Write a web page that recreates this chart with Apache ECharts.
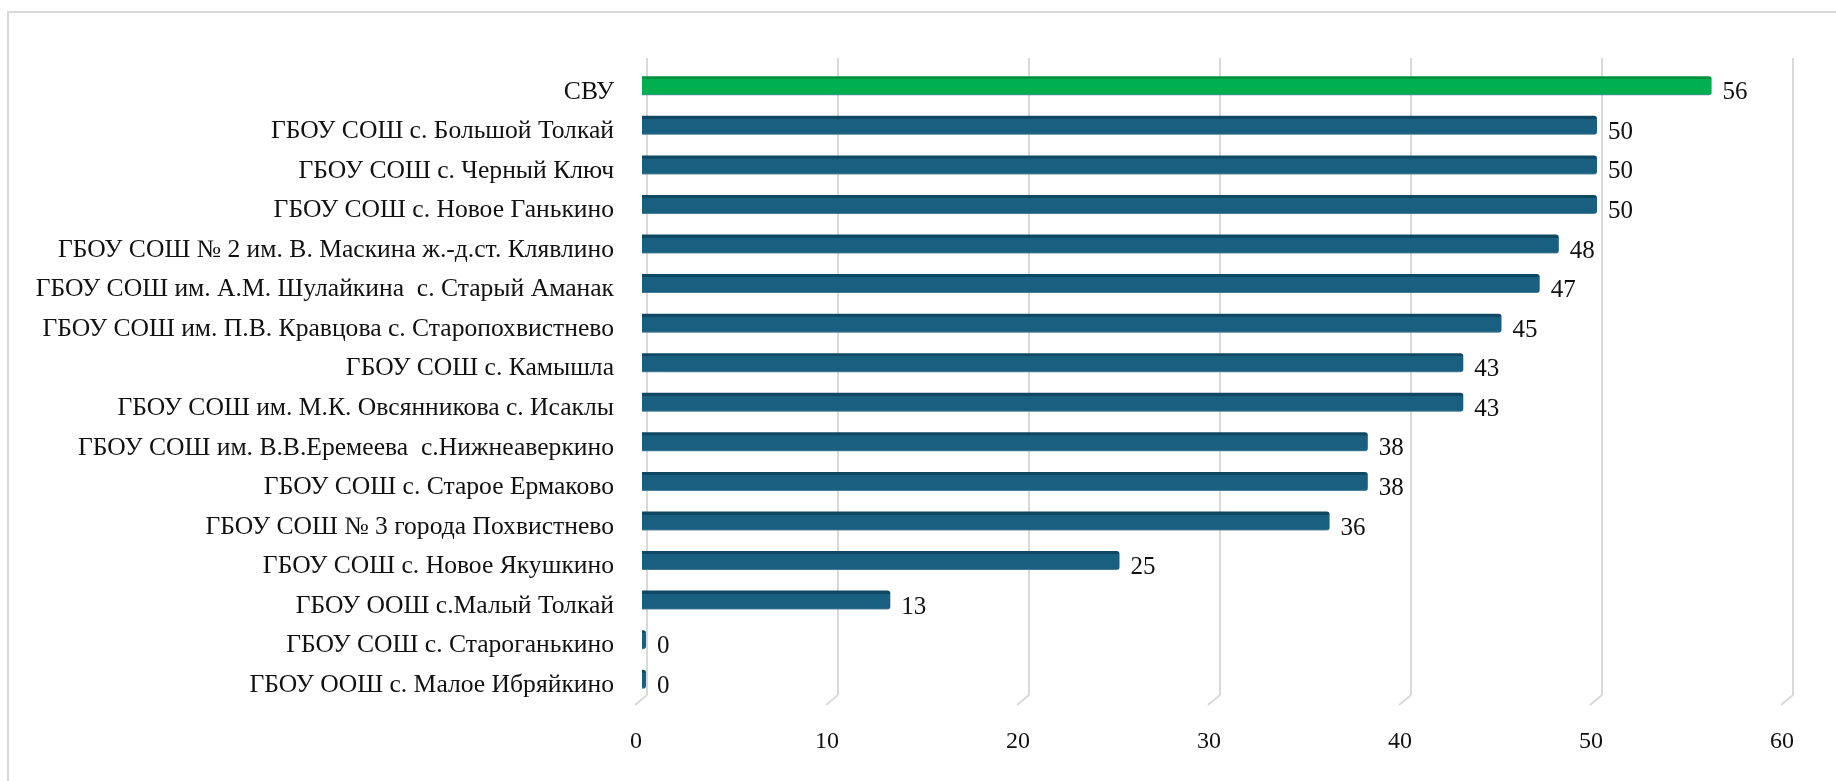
<!DOCTYPE html>
<html>
<head>
<meta charset="utf-8">
<script src="https://cdn.jsdelivr.net/npm/echarts@6/dist/echarts.min.js"></script>
<style>
  html, body { margin: 0; padding: 0; background: #fff; }
  #chart { width: 1836px; height: 781px; }
</style>
</head>
<body>
<div id="chart"></div>
<script>
// школы (сверху вниз)
var categories = [
    'СВУ',
    'ГБОУ СОШ с. Большой Толкай',
    'ГБОУ СОШ с. Черный Ключ',
    'ГБОУ СОШ с. Новое Ганькино',
    'ГБОУ СОШ № 2 им. В. Маскина ж.-д.ст. Клявлино',
    'ГБОУ СОШ им. А.М. Шулайкина  с. Старый Аманак',
    'ГБОУ СОШ им. П.В. Кравцова с. Старопохвистнево',
    'ГБОУ СОШ с. Камышла',
    'ГБОУ СОШ им. М.К. Овсянникова с. Исаклы',
    'ГБОУ СОШ им. В.В.Еремеева  с.Нижнеаверкино',
    'ГБОУ СОШ с. Старое Ермаково',
    'ГБОУ СОШ № 3 города Похвистнево',
    'ГБОУ СОШ с. Новое Якушкино',
    'ГБОУ ООШ с.Малый Толкай',
    'ГБОУ СОШ с. Староганькино',
    'ГБОУ ООШ с. Малое Ибряйкино'
]
var values = [56, 50, 50, 50, 48, 47, 45, 43, 43, 38, 38, 36, 25, 13, 0, 0]
var highlightCats = ['СВУ']
var xTicks = [0, 10, 20, 30, 40, 50, 60]

var myChart = echarts.init(document.getElementById('chart'));

// "объёмная" заливка: тёмная верхняя грань
function barFill(main, dark) {
    return new echarts.graphic.LinearGradient(0, 0, 0, 1, [
        { offset: 0, color: dark },
        { offset: 0.16, color: dark },
        { offset: 0.17, color: main },
        { offset: 0.92, color: main },
        { offset: 1, color: '#5d8aa0' }
    ])
}

var barData = values.map(function (v, i) {
    var hl = highlightCats.indexOf(categories[i]) >= 0
    return {
        value: v,
        itemStyle: {
            color: hl ? barFill('#00b050', '#00913f') : barFill('#185f80', '#0f4863'),
            borderRadius: [0, 3, 3, 0]
        }
    }
})

var option = {
    animation: false,
    backgroundColor: '#fff',
    graphic: [{
        type: 'rect',
        shape: { x: 8, y: 12, width: 2000, height: 1000 },
        style: { fill: 'none', stroke: '#d9d9d9', lineWidth: 2 },
        silent: true
    }],
    grid: [
        { left: 642, width: 1146, top: 66, height: 633 },   // бары
        { left: 647, width: 1146, top: 58, height: 637 },   // задняя стенка с сеткой
        { left: 642, width: 1146, top: 72, height: 633 }    // подписи школ (чуть ниже баров)
    ],
    xAxis: [{
        gridIndex: 0,
        type: 'value', min: 0, max: 60, interval: 10,
        show: false
    }, {
        gridIndex: 1,
        type: 'value', min: 0, max: 60, interval: 10,
        axisLine: { show: false },
        axisTick: { show: false },
        splitLine: { show: true, lineStyle: { color: '#d9d9d9', width: 2 } },
        axisLabel: {
            margin: 35,
            padding: [0, 22, 0, 0],
            color: '#111',
            fontFamily: 'Liberation Serif',
            fontSize: 24
        }
    }, {
        gridIndex: 2,
        type: 'value', min: 0, max: 60,
        show: false
    }],
    yAxis: [{
        gridIndex: 0,
        type: 'category',
        inverse: true,
        data: categories,
        show: false
    }, {
        gridIndex: 1,
        type: 'value', min: 0, max: 1,
        show: false
    }, {
        gridIndex: 2,
        type: 'category',
        inverse: true,
        data: categories,
        axisLine: { show: false },
        axisTick: { show: false },
        axisLabel: {
            margin: 28,
            color: '#111',
            fontFamily: 'Liberation Serif',
            fontSize: 25.6
        }
    }],
    series: [{
        type: 'custom',
        xAxisIndex: 1,
        yAxisIndex: 1,
        silent: true,
        data: xTicks,
        renderItem: function (params, api) {
            var p = api.coord([api.value(0), 0])
            return {
                type: 'line',
                shape: { x1: p[0], y1: p[1], x2: p[0] - 12, y2: p[1] + 10 },
                style: { stroke: '#d9d9d9', lineWidth: 2 }
            }
        }
    }, {
        type: 'bar',
        xAxisIndex: 0,
        yAxisIndex: 0,
        barWidth: 19,
        barMinHeight: 4,
        data: barData,
        label: {
            show: true,
            position: 'right',
            distance: 11,
            offset: [0, 7],
            color: '#111',
            fontFamily: 'Liberation Serif',
            fontSize: 25
        }
    }]
};
myChart.setOption(option);
</script>
</body>
</html>
